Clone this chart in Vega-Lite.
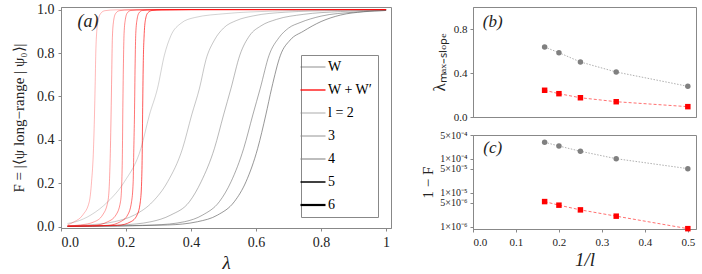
{
  "$schema": "https://vega.github.io/schema/vega-lite/v6.json",
  "padding": {"left": 11, "top": 2, "right": 0, "bottom": 0},
  "config": {
    "font": "Liberation Serif",
    "view": {"stroke": "#888888", "strokeWidth": 1},
    "axis": {"domainColor": "#888888", "tickColor": "#888888", "labelColor": "#222222", "titleColor": "#222222", "labelFont": "Liberation Serif", "titleFont": "Liberation Serif", "titleFontWeight": "normal", "grid": false, "tickSize": 3}
  },
  "datasets": {
    "curves": [
      {"fam":"W","l":2,"lam":0.02,"F":0.015},{"fam":"W","l":2,"lam":0.046,"F":0.023},{"fam":"W","l":2,"lam":0.092,"F":0.054},{"fam":"W","l":2,"lam":0.144,"F":0.115},{"fam":"W","l":2,"lam":0.195,"F":0.207},{"fam":"W","l":2,"lam":0.246,"F":0.361},{"fam":"W","l":2,"lam":0.272,"F":0.515},{"fam":"W","l":2,"lam":0.297,"F":0.638},{"fam":"W","l":2,"lam":0.318,"F":0.79},{"fam":"W","l":2,"lam":0.338,"F":0.88},{"fam":"W","l":2,"lam":0.369,"F":0.937},{"fam":"W","l":2,"lam":0.41,"F":0.963},{"fam":"W","l":2,"lam":0.51,"F":0.982},{"fam":"W","l":2,"lam":0.65,"F":0.993},{"fam":"W","l":2,"lam":0.8,"F":0.998},{"fam":"W","l":2,"lam":1,"F":1},
      {"fam":"W","l":3,"lam":0.02,"F":0.004},{"fam":"W","l":3,"lam":0.082,"F":0.008},{"fam":"W","l":3,"lam":0.164,"F":0.023},{"fam":"W","l":3,"lam":0.226,"F":0.054},{"fam":"W","l":3,"lam":0.282,"F":0.115},{"fam":"W","l":3,"lam":0.328,"F":0.207},{"fam":"W","l":3,"lam":0.374,"F":0.361},{"fam":"W","l":3,"lam":0.402,"F":0.515},{"fam":"W","l":3,"lam":0.426,"F":0.638},{"fam":"W","l":3,"lam":0.446,"F":0.77},{"fam":"W","l":3,"lam":0.472,"F":0.86},{"fam":"W","l":3,"lam":0.5,"F":0.915},{"fam":"W","l":3,"lam":0.54,"F":0.95},{"fam":"W","l":3,"lam":0.591,"F":0.971},{"fam":"W","l":3,"lam":0.69,"F":0.988},{"fam":"W","l":3,"lam":0.85,"F":0.996},{"fam":"W","l":3,"lam":1,"F":0.999},
      {"fam":"W","l":4,"lam":0.02,"F":0.002},{"fam":"W","l":4,"lam":0.185,"F":0.008},{"fam":"W","l":4,"lam":0.277,"F":0.023},{"fam":"W","l":4,"lam":0.338,"F":0.054},{"fam":"W","l":4,"lam":0.395,"F":0.115},{"fam":"W","l":4,"lam":0.431,"F":0.207},{"fam":"W","l":4,"lam":0.472,"F":0.361},{"fam":"W","l":4,"lam":0.5,"F":0.515},{"fam":"W","l":4,"lam":0.523,"F":0.638},{"fam":"W","l":4,"lam":0.55,"F":0.79},{"fam":"W","l":4,"lam":0.58,"F":0.88},{"fam":"W","l":4,"lam":0.615,"F":0.925},{"fam":"W","l":4,"lam":0.663,"F":0.955},{"fam":"W","l":4,"lam":0.745,"F":0.978},{"fam":"W","l":4,"lam":0.86,"F":0.991},{"fam":"W","l":4,"lam":1,"F":0.998},
      {"fam":"W","l":5,"lam":0.02,"F":0.001},{"fam":"W","l":5,"lam":0.287,"F":0.008},{"fam":"W","l":5,"lam":0.38,"F":0.023},{"fam":"W","l":5,"lam":0.436,"F":0.054},{"fam":"W","l":5,"lam":0.487,"F":0.115},{"fam":"W","l":5,"lam":0.523,"F":0.207},{"fam":"W","l":5,"lam":0.562,"F":0.361},{"fam":"W","l":5,"lam":0.59,"F":0.515},{"fam":"W","l":5,"lam":0.613,"F":0.638},{"fam":"W","l":5,"lam":0.64,"F":0.79},{"fam":"W","l":5,"lam":0.67,"F":0.87},{"fam":"W","l":5,"lam":0.7,"F":0.915},{"fam":"W","l":5,"lam":0.735,"F":0.94},{"fam":"W","l":5,"lam":0.8,"F":0.97},{"fam":"W","l":5,"lam":0.9,"F":0.988},{"fam":"W","l":5,"lam":1,"F":0.996},
      {"fam":"W","l":6,"lam":0.02,"F":0.001},{"fam":"W","l":6,"lam":0.328,"F":0.008},{"fam":"W","l":6,"lam":0.42,"F":0.023},{"fam":"W","l":6,"lam":0.482,"F":0.054},{"fam":"W","l":6,"lam":0.533,"F":0.115},{"fam":"W","l":6,"lam":0.569,"F":0.207},{"fam":"W","l":6,"lam":0.605,"F":0.361},{"fam":"W","l":6,"lam":0.63,"F":0.515},{"fam":"W","l":6,"lam":0.648,"F":0.638},{"fam":"W","l":6,"lam":0.675,"F":0.79},{"fam":"W","l":6,"lam":0.705,"F":0.86},{"fam":"W","l":6,"lam":0.745,"F":0.9},{"fam":"W","l":6,"lam":0.8,"F":0.945},{"fam":"W","l":6,"lam":0.86,"F":0.975},{"fam":"W","l":6,"lam":0.93,"F":0.99},{"fam":"W","l":6,"lam":1,"F":0.996},
      {"fam":"W + W′","l":2,"lam":0.02,"F":0.008},{"fam":"W + W′","l":2,"lam":0.041,"F":0.023},{"fam":"W + W′","l":2,"lam":0.067,"F":0.054},{"fam":"W + W′","l":2,"lam":0.087,"F":0.115},{"fam":"W + W′","l":2,"lam":0.094,"F":0.207},{"fam":"W + W′","l":2,"lam":0.1,"F":0.361},{"fam":"W + W′","l":2,"lam":0.103,"F":0.515},{"fam":"W + W′","l":2,"lam":0.105,"F":0.65},{"fam":"W + W′","l":2,"lam":0.107,"F":0.8},{"fam":"W + W′","l":2,"lam":0.11,"F":0.9},{"fam":"W + W′","l":2,"lam":0.115,"F":0.955},{"fam":"W + W′","l":2,"lam":0.122,"F":0.982},{"fam":"W + W′","l":2,"lam":0.135,"F":0.995},{"fam":"W + W′","l":2,"lam":0.17,"F":0.999},{"fam":"W + W′","l":2,"lam":0.4,"F":1},{"fam":"W + W′","l":2,"lam":1,"F":1},
      {"fam":"W + W′","l":3,"lam":0.02,"F":0.004},{"fam":"W + W′","l":3,"lam":0.06,"F":0.008},{"fam":"W + W′","l":3,"lam":0.103,"F":0.023},{"fam":"W + W′","l":3,"lam":0.128,"F":0.054},{"fam":"W + W′","l":3,"lam":0.144,"F":0.115},{"fam":"W + W′","l":3,"lam":0.149,"F":0.207},{"fam":"W + W′","l":3,"lam":0.152,"F":0.361},{"fam":"W + W′","l":3,"lam":0.154,"F":0.515},{"fam":"W + W′","l":3,"lam":0.156,"F":0.7},{"fam":"W + W′","l":3,"lam":0.158,"F":0.87},{"fam":"W + W′","l":3,"lam":0.162,"F":0.95},{"fam":"W + W′","l":3,"lam":0.168,"F":0.982},{"fam":"W + W′","l":3,"lam":0.18,"F":0.995},{"fam":"W + W′","l":3,"lam":0.21,"F":0.999},{"fam":"W + W′","l":3,"lam":0.4,"F":1},{"fam":"W + W′","l":3,"lam":1,"F":1},
      {"fam":"W + W′","l":4,"lam":0.02,"F":0.003},{"fam":"W + W′","l":4,"lam":0.1,"F":0.006},{"fam":"W + W′","l":4,"lam":0.144,"F":0.023},{"fam":"W + W′","l":4,"lam":0.169,"F":0.054},{"fam":"W + W′","l":4,"lam":0.183,"F":0.115},{"fam":"W + W′","l":4,"lam":0.187,"F":0.207},{"fam":"W + W′","l":4,"lam":0.189,"F":0.361},{"fam":"W + W′","l":4,"lam":0.19,"F":0.515},{"fam":"W + W′","l":4,"lam":0.192,"F":0.75},{"fam":"W + W′","l":4,"lam":0.194,"F":0.89},{"fam":"W + W′","l":4,"lam":0.198,"F":0.955},{"fam":"W + W′","l":4,"lam":0.204,"F":0.985},{"fam":"W + W′","l":4,"lam":0.215,"F":0.996},{"fam":"W + W′","l":4,"lam":0.25,"F":0.999},{"fam":"W + W′","l":4,"lam":0.4,"F":1},{"fam":"W + W′","l":4,"lam":1,"F":1},
      {"fam":"W + W′","l":5,"lam":0.02,"F":0.002},{"fam":"W + W′","l":5,"lam":0.144,"F":0.006},{"fam":"W + W′","l":5,"lam":0.183,"F":0.023},{"fam":"W + W′","l":5,"lam":0.205,"F":0.054},{"fam":"W + W′","l":5,"lam":0.217,"F":0.115},{"fam":"W + W′","l":5,"lam":0.222,"F":0.207},{"fam":"W + W′","l":5,"lam":0.224,"F":0.361},{"fam":"W + W′","l":5,"lam":0.226,"F":0.515},{"fam":"W + W′","l":5,"lam":0.228,"F":0.75},{"fam":"W + W′","l":5,"lam":0.23,"F":0.89},{"fam":"W + W′","l":5,"lam":0.234,"F":0.955},{"fam":"W + W′","l":5,"lam":0.24,"F":0.985},{"fam":"W + W′","l":5,"lam":0.25,"F":0.996},{"fam":"W + W′","l":5,"lam":0.28,"F":0.999},{"fam":"W + W′","l":5,"lam":0.4,"F":1},{"fam":"W + W′","l":5,"lam":1,"F":1},
      {"fam":"W + W′","l":6,"lam":0.02,"F":0.002},{"fam":"W + W′","l":6,"lam":0.174,"F":0.006},{"fam":"W + W′","l":6,"lam":0.215,"F":0.023},{"fam":"W + W′","l":6,"lam":0.234,"F":0.054},{"fam":"W + W′","l":6,"lam":0.244,"F":0.115},{"fam":"W + W′","l":6,"lam":0.248,"F":0.207},{"fam":"W + W′","l":6,"lam":0.25,"F":0.361},{"fam":"W + W′","l":6,"lam":0.251,"F":0.515},{"fam":"W + W′","l":6,"lam":0.253,"F":0.75},{"fam":"W + W′","l":6,"lam":0.256,"F":0.89},{"fam":"W + W′","l":6,"lam":0.26,"F":0.955},{"fam":"W + W′","l":6,"lam":0.267,"F":0.985},{"fam":"W + W′","l":6,"lam":0.28,"F":0.996},{"fam":"W + W′","l":6,"lam":0.31,"F":0.999},{"fam":"W + W′","l":6,"lam":0.4,"F":1},{"fam":"W + W′","l":6,"lam":1,"F":1}
    ],
    "pts": [
      {"invl":0.1667,"fam":"W","lam":0.636,"omf":3.05e-4},
      {"invl":0.2,"fam":"W","lam":0.585,"omf":2.37e-4},
      {"invl":0.25,"fam":"W","lam":0.5,"omf":1.66e-4},
      {"invl":0.3333,"fam":"W","lam":0.409,"omf":1.0e-4},
      {"invl":0.5,"fam":"W","lam":0.279,"omf":5.1e-5},
      {"invl":0.1667,"fam":"W + W′","lam":0.243,"omf":5.46e-6},
      {"invl":0.2,"fam":"W + W′","lam":0.212,"omf":4.28e-6},
      {"invl":0.25,"fam":"W + W′","lam":0.175,"omf":3.11e-6},
      {"invl":0.3333,"fam":"W + W′","lam":0.139,"omf":2.03e-6},
      {"invl":0.5,"fam":"W + W′","lam":0.094,"omf":8.7e-7}
    ]
  },
  "spacing": 28,
  "hconcat": [
    {
      "width": 330,
      "height": 221,
      "layer": [
        {
          "data": {"name": "curves"},
          "mark": {"type": "line", "interpolate": "monotone", "strokeCap": "butt"},
          "encoding": {
            "x": {"field": "lam", "type": "quantitative", "scale": {"domain": [0, 1.015], "nice": false}, "axis": {"values": [0, 0.2, 0.4, 0.6, 0.8, 1], "labelExpr": "datum.value == 1 ? '1' : format(datum.value, '.1f')", "title": "λ", "titleFontStyle": "italic", "titleFontSize": 19, "labelFontSize": 14, "labelPadding": 4, "titlePadding": 4}},
            "y": {"field": "F", "type": "quantitative", "scale": {"domain": [-0.006, 1.012], "nice": false, "zero": false}, "axis": {"values": [0, 0.2, 0.4, 0.6, 0.8, 1], "format": ".1f", "title": "F = |⟨ψ long−range | ψ₀⟩|", "titleFontSize": 15, "labelFontSize": 14, "labelPadding": 4, "titlePadding": 10}},
            "color": {"field": "fam", "type": "nominal", "scale": {"domain": ["W", "W + W′", "l = 2", "3", "4", "5", "6"], "range": ["#606060", "#ff0000", "#888888", "#888888", "#888888", "#000000", "#000000"]},
              "legend": {"orient": "none", "legendX": 240, "legendY": 48, "title": null, "symbolType": "stroke", "symbolSize": 625, "labelFontSize": 14, "labelFont": "Liberation Serif", "labelOffset": 8, "rowPadding": 9, "padding": 5, "strokeColor": "#888888", "fillColor": "#ffffff",
                "encode": {"symbols": {"update": {
                  "strokeWidth": {"signal": "datum.value === 'W' ? 0.7 : datum.value === 'W + W′' ? 1.3 : datum.value === 'l = 2' ? 0.7 : datum.value === '3' ? 0.9 : datum.value === '4' ? 1.1 : datum.value === '5' ? 1.5 : 2.2"},
                  "stroke": {"signal": "datum.value === 'W' ? '#aaaaaa' : datum.value === 'W + W′' ? '#ff0000' : (datum.value === '5' || datum.value === '6') ? '#000000' : '#888888'"},
                  "opacity": {"value": 1}}}}}},
            "strokeWidth": {"field": "l", "type": "ordinal", "scale": {"domain": [2, 3, 4, 5, 6], "range": [0.7, 1.0, 1.3, 1.8, 2.5]}, "legend": null},
            "opacity": {"field": "l", "type": "ordinal", "scale": {"domain": [2, 3, 4, 5, 6], "range": [0.4, 0.65, 0.8, 0.9, 1]}, "legend": null}
          }
        },
        {
          "data": {"values": [{"t": "(a)"}]},
          "mark": {"type": "text", "fontStyle": "italic", "fontSize": 18, "font": "Liberation Serif", "color": "#222222"},
          "encoding": {"x": {"datum": 0.083}, "y": {"datum": 0.943}, "text": {"field": "t"}}
        }
      ]
    },
    {
      "spacing": 6,
      "vconcat": [
        {
          "width": 223,
          "height": 110,
          "layer": [
            {
              "data": {"name": "pts"},
              "mark": {"type": "line", "strokeWidth": 1},
              "encoding": {
                "x": {"field": "invl", "type": "quantitative", "scale": {"domain": [0, 0.519], "nice": false}, "axis": {"labels": false, "ticks": false, "title": null}},
                "y": {"field": "lam", "type": "quantitative", "scale": {"domain": [0, 1], "nice": false}, "axis": {"values": [0, 0.2, 0.4, 0.6, 0.8, 1], "format": ".1f", "title": "λₘₐₓ₋ₛₗₒₚₑ", "titleFontSize": 17, "labelFontSize": 11, "labelPadding": 3, "titlePadding": 5}},
                "color": {"field": "fam", "type": "nominal", "scale": {"domain": ["W", "W + W′"], "range": ["#b0b0b0", "#ff7070"]}, "legend": null},
                "strokeDash": {"field": "fam", "type": "nominal", "scale": {"domain": ["W", "W + W′"], "range": [[1.5, 1.5], [3, 2]]}, "legend": null}
              }
            },
            {
              "data": {"name": "pts"},
              "mark": {"type": "point", "filled": true, "opacity": 1, "size": 30},
              "encoding": {
                "x": {"field": "invl", "type": "quantitative"},
                "y": {"field": "lam", "type": "quantitative"},
                "shape": {"field": "fam", "type": "nominal", "scale": {"domain": ["W", "W + W′"], "range": ["circle", "square"]}, "legend": null},
                "fill": {"field": "fam", "type": "nominal", "scale": {"domain": ["W", "W + W′"], "range": ["#808080", "#ff0000"]}, "legend": null}
              }
            },
            {
              "data": {"values": [{"t": "(b)"}]},
              "mark": {"type": "text", "fontStyle": "italic", "fontSize": 17, "font": "Liberation Serif", "color": "#222222"},
              "encoding": {"x": {"datum": 0.046}, "y": {"datum": 0.864}, "text": {"field": "t"}}
            }
          ],
          "resolve": {"scale": {"color": "independent"}}
        },
        {
          "width": 223,
          "height": 94,
          "layer": [
            {
              "data": {"name": "pts"},
              "mark": {"type": "line", "strokeWidth": 1},
              "encoding": {
                "x": {"field": "invl", "type": "quantitative", "scale": {"domain": [0, 0.519], "nice": false}, "axis": {"values": [0, 0.1, 0.2, 0.3, 0.4, 0.5], "format": ".1f", "title": "1/l", "titleFontStyle": "italic", "titleFontSize": 19, "labelFontSize": 11, "labelPadding": 4, "titlePadding": 3}},
                "y": {"field": "omf", "type": "quantitative", "scale": {"type": "log", "domain": [8.5e-7, 5e-4], "nice": false}, "axis": {"values": [1e-6, 5e-6, 1e-5, 5e-5, 1e-4, 5e-4], "labelExpr": "datum.value < 2e-6 ? '1×10⁻⁶' : datum.value < 7e-6 ? '5×10⁻⁶' : datum.value < 2e-5 ? '1×10⁻⁵' : datum.value < 7e-5 ? '5×10⁻⁵' : datum.value < 2e-4 ? '1×10⁻⁴' : '5×10⁻⁴'", "title": "1 − F", "titleFontSize": 15, "labelFontSize": 10, "labelPadding": 3, "titlePadding": 4}},
                "color": {"field": "fam", "type": "nominal", "scale": {"domain": ["W", "W + W′"], "range": ["#b0b0b0", "#ff7070"]}, "legend": null},
                "strokeDash": {"field": "fam", "type": "nominal", "scale": {"domain": ["W", "W + W′"], "range": [[1.5, 1.5], [3, 2]]}, "legend": null}
              }
            },
            {
              "data": {"name": "pts"},
              "mark": {"type": "point", "filled": true, "opacity": 1, "size": 30},
              "encoding": {
                "x": {"field": "invl", "type": "quantitative"},
                "y": {"field": "omf", "type": "quantitative"},
                "shape": {"field": "fam", "type": "nominal", "scale": {"domain": ["W", "W + W′"], "range": ["circle", "square"]}, "legend": null},
                "fill": {"field": "fam", "type": "nominal", "scale": {"domain": ["W", "W + W′"], "range": ["#808080", "#ff0000"]}, "legend": null}
              }
            },
            {
              "data": {"values": [{"t": "(c)"}]},
              "mark": {"type": "text", "fontStyle": "italic", "fontSize": 17, "font": "Liberation Serif", "color": "#222222"},
              "encoding": {"x": {"datum": 0.046}, "y": {"datum": 2.07e-4}, "text": {"field": "t"}}
            }
          ],
          "resolve": {"scale": {"color": "independent"}}
        }
      ]
    }
  ]
}
